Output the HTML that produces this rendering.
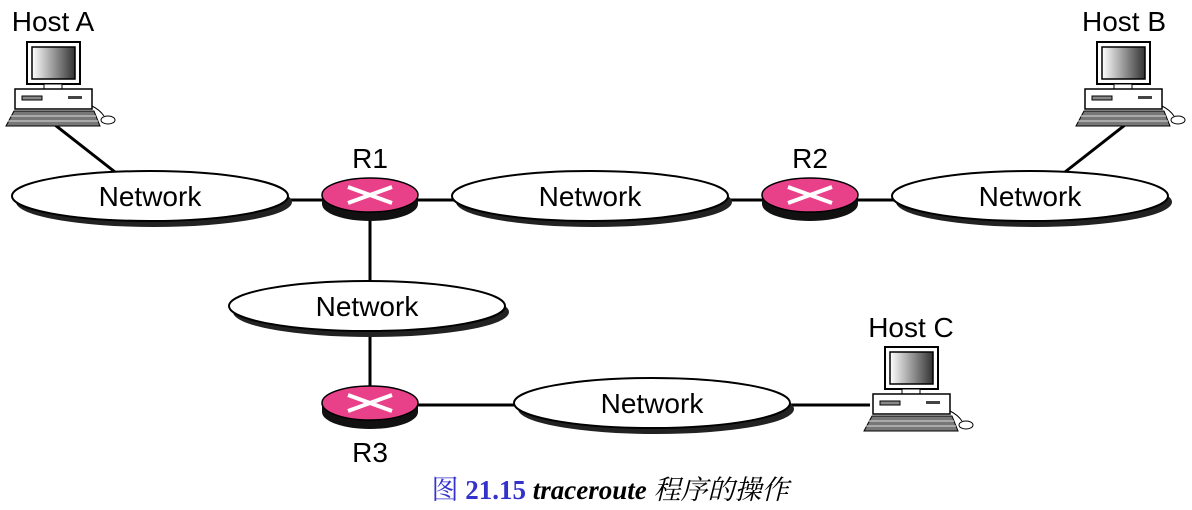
<!DOCTYPE html>
<html><head><meta charset="utf-8"><style>
html,body{margin:0;padding:0;background:#fff}
svg{display:block}
text{font-family:"Liberation Sans","DejaVu Sans",sans-serif}
</style></head><body>
<svg width="1192" height="510" viewBox="0 0 1192 510" xmlns="http://www.w3.org/2000/svg">
<defs>
<linearGradient id="scr" x1="0" x2="1"><stop offset="0" stop-color="#fff"/><stop offset="1" stop-color="#333"/></linearGradient>
<g id="host">
  <rect x="27" y="42" width="53" height="42" fill="#fff" stroke="#000" stroke-width="2"/>
  <rect x="32" y="47" width="43" height="32" fill="url(#scr)" stroke="#000" stroke-width="1.5"/>
  <rect x="44" y="84" width="18" height="5" fill="#fff" stroke="#000"/>
  <rect x="15" y="89" width="77" height="20" fill="#fff" stroke="#000" stroke-width="1.5"/>
  <rect x="22" y="96" width="20" height="4" fill="#888" stroke="#000"/>
  <rect x="68" y="96" width="14" height="3" fill="#444"/>
  <path d="M14 111 L94 111 L100 126 L6 126 Z" fill="#777" stroke="#000"/>
  <path d="M10 116 L96 116 M8 121 L98 121" stroke="#ddd" stroke-width="1"/>
  <path d="M92 106 Q100 110 104 116" fill="none" stroke="#000"/>
  <ellipse cx="108" cy="120" rx="7" ry="4" fill="#fff" stroke="#000"/>
</g>
<g id="net">
  <ellipse cx="4" cy="6" rx="138" ry="25" fill="#222"/>
  <ellipse cx="0" cy="0" rx="138" ry="25" fill="#fff" stroke="#000" stroke-width="2"/>
</g>
<g id="rt">
  <path d="M-48 0 L-48 9 A48 17 0 0 0 48 9 L48 0 Z" fill="#111"/>
  <ellipse cx="0" cy="0" rx="48" ry="17" fill="#e8418a" stroke="#000" stroke-width="1.5"/>
  <path d="M-22 -8 L22 8 M-22 8 L22 -8" stroke="#fff" stroke-width="4"/>
</g>
</defs>
<g stroke="#000" stroke-width="3" fill="none">
  <line x1="55" y1="125" x2="115" y2="172"/>
  <line x1="1125" y1="125" x2="1065" y2="172"/>
  <line x1="285" y1="200" x2="330" y2="200"/>
  <line x1="415" y1="200" x2="455" y2="200"/>
  <line x1="725" y1="200" x2="765" y2="200"/>
  <line x1="855" y1="200" x2="895" y2="200"/>
  <line x1="370" y1="210" x2="370" y2="282"/>
  <line x1="370" y1="330" x2="370" y2="392"/>
  <line x1="410" y1="405" x2="518" y2="405"/>
  <line x1="785" y1="405" x2="870" y2="405"/>
</g>
<use href="#net" x="150" y="196"/>
<use href="#net" x="590" y="196"/>
<use href="#net" x="1030" y="196"/>
<use href="#net" x="367" y="306"/>
<use href="#net" x="652" y="403"/>
<use href="#rt" x="370" y="195"/>
<use href="#rt" x="810" y="195"/>
<use href="#rt" x="370" y="403"/>
<use href="#host" x="0" y="0"/>
<use href="#host" x="1070" y="0"/>
<use href="#host" x="858" y="305"/>
<g font-size="28" fill="#000" text-anchor="middle">
  <text x="150" y="206">Network</text>
  <text x="590" y="206">Network</text>
  <text x="1030" y="206">Network</text>
  <text x="367" y="316">Network</text>
  <text x="652" y="413">Network</text>
  <text x="53" y="31">Host A</text>
  <text x="1124" y="31">Host B</text>
  <text x="911" y="337">Host C</text>
  <text x="370" y="168">R1</text>
  <text x="810" y="168">R2</text>
  <text x="370" y="462">R3</text>
</g>
<text x="610" y="499" text-anchor="middle" font-size="27" style="font-family:'Liberation Serif','Noto Serif CJK SC',serif"><tspan fill="#3333cc">图 </tspan><tspan fill="#3333cc" font-weight="bold">21.15 </tspan><tspan font-weight="bold" font-style="italic">traceroute </tspan><tspan font-style="italic">程序的操作</tspan></text>
</svg>
</body></html>
